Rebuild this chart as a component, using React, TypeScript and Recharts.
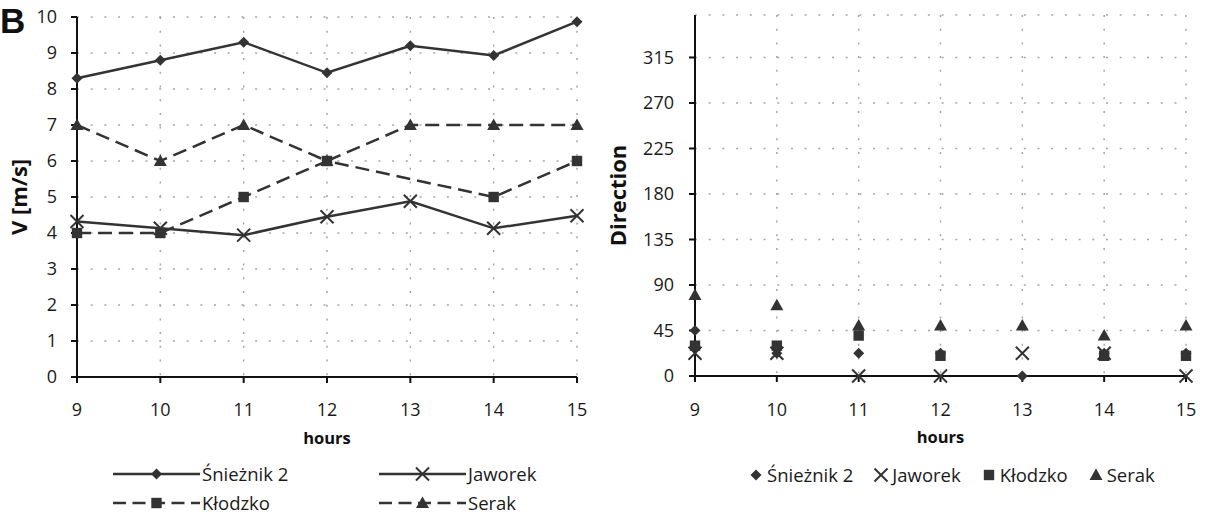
import React from "react";
import {
  CartesianGrid,
  Legend,
  Line,
  LineChart,
  Scatter,
  ScatterChart,
  XAxis,
  YAxis,
} from "recharts";

/* ── data ──────────────────────────────────────────────────────────────────── */

const HOURS = [9, 10, 11, 12, 13, 14, 15];
const STATIONS = ["Śnieżnik 2", "Jaworek", "Kłodzko", "Serak"];

// wind speed [m/s]; Kłodzko has no reading at 13
const SPEED_SNIEZNIK = [8.3, 8.8, 9.3, 8.45, 9.2, 8.93, 9.87];
const SPEED_JAWOREK = [4.32, 4.13, 3.94, 4.45, 4.88, 4.13, 4.48];
const SPEED_KLODZKO = [4, 4, 5, 6, null, 5, 6];
const SPEED_SERAK = [7, 6, 7, 6, 7, 7, 7];

// wind direction [deg]
const DIR_SNIEZNIK = [45, 22.5, 22.5, 22.5, 0, 22.5, 22.5];
const DIR_JAWOREK = [22.5, 22.5, 0, 0, 22.5, 22.5, 0];
const DIR_KLODZKO = [30, 30, 40, 20, null, 20, 20];
const DIR_SERAK = [80, 70, 50, 50, 50, 40, 50];

const SPEED_TICKS = [0, 1, 2, 3, 4, 5, 6, 7, 8, 9, 10];
const DIR_TICKS = [0, 45, 90, 135, 180, 225, 270, 315];

/* ── styling ───────────────────────────────────────────────────────────────── */

const INK = "#333";
const FONT = "'Open Sans', 'Liberation Sans', sans-serif";
const DASH = "14 7";
const AXIS = { stroke: "#111", strokeWidth: 2 };
const TICK = { fill: "#1a1a1a", fontSize: 18, fontFamily: FONT };
const TITLE_Y = { fill: "#111", fontSize: 22, fontWeight: 700, fontFamily: FONT, textAnchor: "middle" } as const;
const TITLE_X = { fill: "#111", fontSize: 16.5, fontWeight: 700, fontFamily: FONT } as const;

type Kind = "diamond" | "x" | "square" | "triangle";
const KINDS: Kind[] = ["diamond", "x", "square", "triangle"];
const DASHES = [undefined, undefined, DASH, DASH];
const KEYS = ["sniez", "jaw", "klodz", "serak"];

const speedRows = HOURS.map((hour, i) => ({
  hour,
  sniez: SPEED_SNIEZNIK[i],
  jaw: SPEED_JAWOREK[i],
  klodz: SPEED_KLODZKO[i],
  serak: SPEED_SERAK[i],
}));

const dirSeries = [DIR_SNIEZNIK, DIR_JAWOREK, DIR_KLODZKO, DIR_SERAK].map((vals) =>
  HOURS.map((hour, i) => ({ hour, dir: vals[i] })).filter((p) => p.dir != null),
);

function Marker({ kind, cx, cy }: { kind: Kind; cx?: number; cy?: number }) {
  if (cx == null || cy == null || Number.isNaN(cx) || Number.isNaN(cy)) return null;
  if (kind === "diamond") {
    const r = 5.5;
    return <path d={`M${cx} ${cy - r}L${cx + r} ${cy}L${cx} ${cy + r}L${cx - r} ${cy}Z`} fill={INK} />;
  }
  if (kind === "square") {
    const r = 5.2;
    return <rect x={cx - r} y={cy - r} width={2 * r} height={2 * r} fill={INK} />;
  }
  if (kind === "triangle") {
    const w = 6.5;
    return <path d={`M${cx} ${cy - 6.5}L${cx + w} ${cy + 5}L${cx - w} ${cy + 5}Z`} fill={INK} />;
  }
  const r = 6.5;
  return (
    <g stroke={INK} strokeWidth={2}>
      <line x1={cx - r} y1={cy - r} x2={cx + r} y2={cy + r} />
      <line x1={cx - r} y1={cy + r} x2={cx + r} y2={cy - r} />
    </g>
  );
}

/* ── legends ───────────────────────────────────────────────────────────────── */

function SpeedLegend() {
  const cols = [113, 379];
  return (
    <div style={{ position: "relative", width: 600, height: 56, fontSize: 18.5, lineHeight: "20px", color: "#1a1a1a" }}>
      {STATIONS.map((name, i) => (
        <div
          key={name}
          style={{
            position: "absolute",
            left: cols[i % 2],
            top: i < 2 ? 5 : 34,
            height: 20,
            display: "flex",
            alignItems: "center",
            whiteSpace: "nowrap",
          }}
        >
          <svg width={87} height={20}>
            <line x1={0} x2={87} y1={10} y2={10} stroke={INK} strokeWidth={2.5} strokeDasharray={DASHES[i] && "13 6.5"} />
            <Marker kind={KINDS[i]} cx={43.5} cy={10} />
          </svg>
          <span style={{ marginLeft: 2 }}>{name}</span>
        </div>
      ))}
    </div>
  );
}

function DirLegend() {
  return (
    <div
      style={{
        width: 610,
        height: 56,
        paddingLeft: 148,
        paddingTop: 5,
        boxSizing: "border-box",
        display: "flex",
        alignItems: "flex-start",
        gap: 20,
        fontSize: 18.5,
        lineHeight: "22px",
        color: "#1a1a1a",
        whiteSpace: "nowrap",
      }}
    >
      {STATIONS.map((name, i) => (
        <div key={name} style={{ display: "flex", alignItems: "center", height: 22 }}>
          <svg width={16} height={22}>
            <Marker kind={KINDS[i]} cx={8} cy={11} />
          </svg>
          <span style={{ marginLeft: 3 }}>{name}</span>
        </div>
      ))}
    </div>
  );
}

/* ── panels ────────────────────────────────────────────────────────────────── */

function SpeedChart() {
  return (
    <LineChart width={600} height={515} data={speedRows} margin={{ top: 17, right: 23, bottom: 0, left: 0 }}>
      <CartesianGrid stroke="#a6a6a6" strokeWidth={1.5} strokeDasharray="2 11.7" />
      <XAxis
        type="number"
        dataKey="hour"
        domain={[9, 15]}
        ticks={HOURS}
        height={82}
        tickSize={6}
        tickMargin={20}
        axisLine={AXIS}
        tickLine={AXIS}
        tick={TICK}
        label={{ value: "hours", position: "insideBottom", offset: 15, style: TITLE_X }}
      />
      <YAxis
        type="number"
        domain={[0, 10]}
        ticks={SPEED_TICKS}
        width={77}
        tickSize={6}
        tickMargin={14}
        axisLine={AXIS}
        tickLine={AXIS}
        tick={TICK}
        label={{ value: "V [m/s]", angle: -90, position: "insideLeft", offset: 19, style: TITLE_Y }}
      />
      {KEYS.map((k, i) => (
        <Line
          key={k}
          dataKey={k}
          name={STATIONS[i]}
          stroke={INK}
          strokeWidth={2.5}
          strokeDasharray={DASHES[i]}
          connectNulls
          isAnimationActive={false}
          activeDot={false}
          dot={(p: any) => (
            <g key={`${k}-${p.index}`}>
              <Marker kind={KINDS[i]} cx={p.cx} cy={p.value == null ? undefined : p.cy} />
            </g>
          )}
        />
      ))}
      <Legend
        verticalAlign="bottom"
        height={56}
        wrapperStyle={{ left: 0, width: 600, bottom: 0 }}
        content={() => <SpeedLegend />}
      />
    </LineChart>
  );
}

function DirectionChart() {
  return (
    <ScatterChart width={610} height={515} margin={{ top: 15, right: 24, bottom: 0, left: 0 }}>
      <CartesianGrid stroke="#a6a6a6" strokeWidth={1.5} strokeDasharray="2 11.7" />
      <XAxis
        type="number"
        dataKey="hour"
        domain={[9, 15]}
        ticks={HOURS}
        height={83}
        tickSize={6}
        tickMargin={21}
        axisLine={AXIS}
        tickLine={AXIS}
        tick={TICK}
        label={{ value: "hours", position: "insideBottom", offset: 16, style: TITLE_X }}
      />
      <YAxis
        type="number"
        dataKey="dir"
        domain={[0, 357]}
        ticks={DIR_TICKS}
        width={95}
        tickSize={6}
        tickMargin={15}
        axisLine={AXIS}
        tickLine={AXIS}
        tick={TICK}
        label={{ value: "Direction", angle: -90, position: "insideLeft", offset: 18, style: TITLE_Y }}
      />
      {dirSeries.map((pts, i) => (
        <Scatter
          key={STATIONS[i]}
          name={STATIONS[i]}
          data={pts}
          isAnimationActive={false}
          shape={(p: any) => <Marker kind={KINDS[i]} cx={p.cx} cy={p.cy} />}
        />
      ))}
      <Legend
        verticalAlign="bottom"
        height={56}
        wrapperStyle={{ left: 0, width: 610, bottom: 0 }}
        content={() => <DirLegend />}
      />
    </ScatterChart>
  );
}

export default function App() {
  return (
    <div
      style={{
        position: "absolute",
        left: 0,
        top: 0,
        width: 1210,
        height: 515,
        overflow: "hidden",
        background: "#fff",
        fontFamily: FONT,
      }}
    >
      <div
        style={{
          position: "absolute",
          left: 0,
          top: 3,
          fontFamily: "'Liberation Sans', Arial, sans-serif",
          fontWeight: 700,
          fontSize: 35,
          lineHeight: 1,
          color: "#111",
          zIndex: 2,
        }}
      >
        B
      </div>
      <div style={{ display: "flex" }}>
        <SpeedChart />
        <DirectionChart />
      </div>
    </div>
  );
}
